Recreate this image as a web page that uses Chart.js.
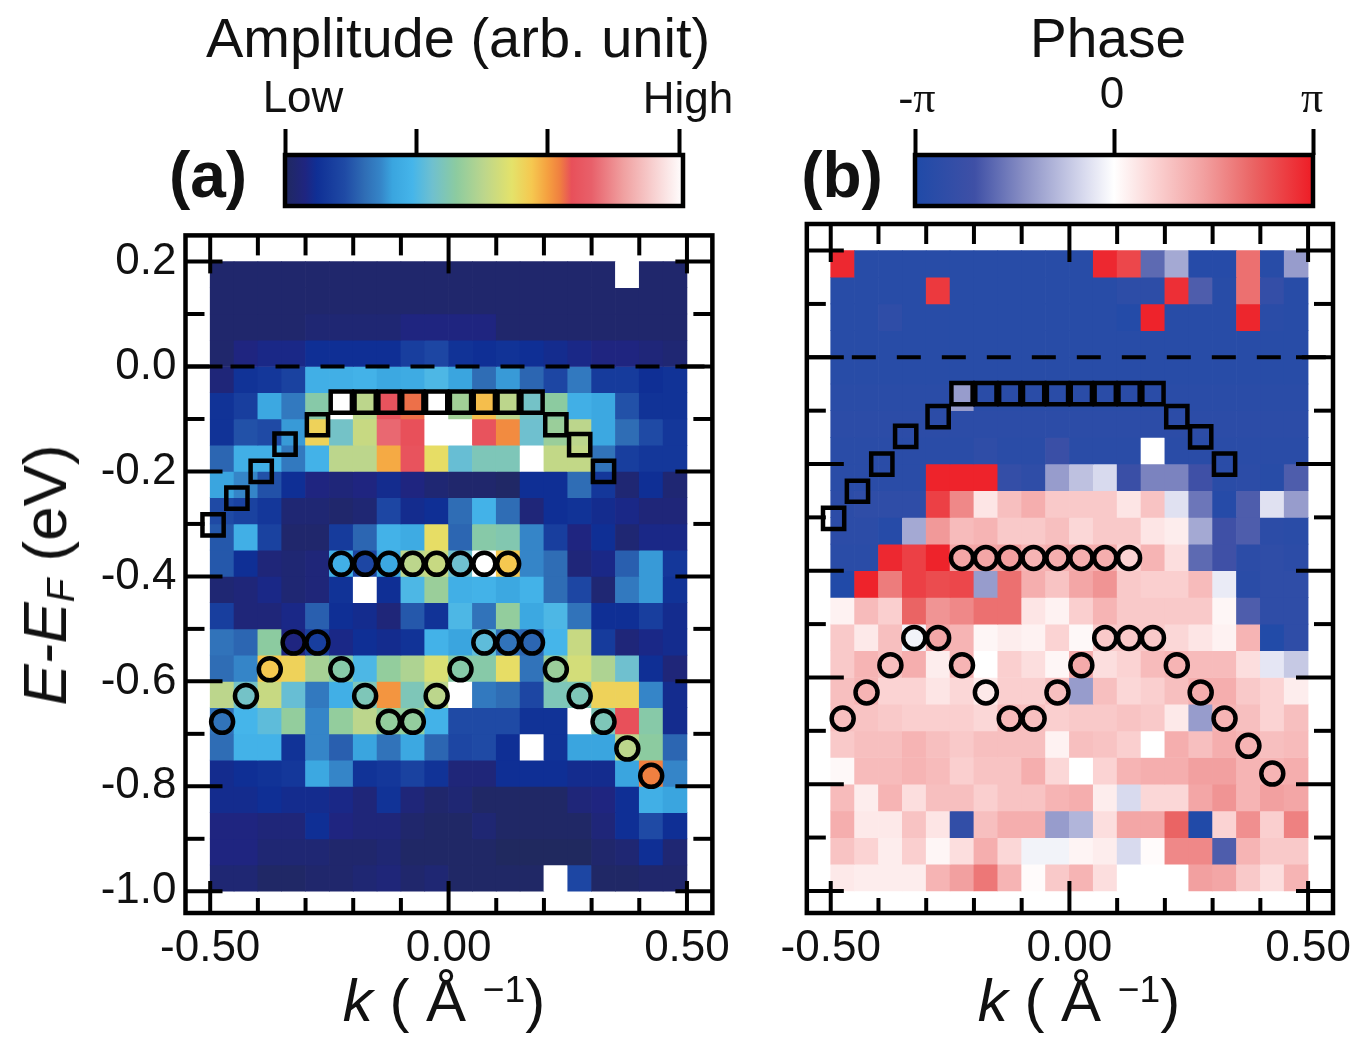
<!DOCTYPE html>
<html>
<head>
<meta charset="utf-8">
<script src="https://cdn.jsdelivr.net/npm/chart.js@4"></script>
<style>
html,body{margin:0;padding:0;background:#fff;width:1369px;height:1038px;overflow:hidden;font-family:"Liberation Sans",Arial,sans-serif;color:#111}
canvas{position:absolute;display:block}
.t{position:absolute;white-space:nowrap;transform:translate(-50%,-50%);line-height:1}
.rot{transform:translate(-50%,-50%) rotate(-90deg)}
.i{font-style:italic}
.sub{font-size:.62em;position:relative;top:.22em;font-style:italic}
.sup{font-size:.62em;position:relative;top:-.5em}
</style>
</head>
<body>
<canvas id="cbA" width="430" height="110" style="left:270px;top:110px"></canvas>
<canvas id="cbB" width="430" height="110" style="left:900px;top:110px"></canvas>
<canvas id="panelA" width="700" height="800" style="left:40px;top:200px"></canvas>
<canvas id="panelB" width="599" height="800" style="left:770px;top:200px"></canvas>

<div class="t" style="left:458px;top:38px;font-size:56px">Amplitude (arb. unit)</div>
<div class="t" style="left:1108px;top:38px;font-size:55px">Phase</div>
<div class="t" style="left:303px;top:97px;font-size:44px">Low</div>
<div class="t" style="left:688px;top:98px;font-size:44px">High</div>
<div class="t" style="left:917px;top:98px;font-size:44px;font-family:'Liberation Serif'">-π</div>
<div class="t" style="left:1112px;top:93px;font-size:44px">0</div>
<div class="t" style="left:1312px;top:98px;font-size:44px;font-family:'Liberation Serif'">π</div>
<div class="t" style="left:208px;top:175px;font-size:64px;font-weight:bold">(a)</div>
<div class="t" style="left:842px;top:175px;font-size:64px;font-weight:bold">(b)</div>
<div class="t rot" style="left:45px;top:575px;font-size:62px"><span class="i">E-E</span><span class="sub">F</span> (eV)</div>
<div class="t" style="left:444px;top:1001px;font-size:60px"><span class="i">k</span> ( Å <span class="sup">−1</span>)</div>
<div class="t" style="left:1079px;top:1001px;font-size:60px"><span class="i">k</span> ( Å <span class="sup">−1</span>)</div>

<script>
// ---------- axes ----------
const kCenters = [-0.475,-0.425,-0.375,-0.325,-0.275,-0.225,-0.175,-0.125,-0.075,-0.025,0.025,0.075,0.125,0.175,0.225,0.275,0.325,0.375,0.425,0.475];
const energyTops = [0.20,0.15,0.10,0.05,0.00,-0.05,-0.10,-0.15,-0.20,-0.25,-0.30,-0.35,-0.40,-0.45,-0.50,-0.55,-0.60,-0.65,-0.70,-0.75,-0.80,-0.85,-0.90,-0.95];
const energyStep = 0.05;
const kTickValues = [-0.5,0,0.5];
const kTickLabels = ['-0.50','0.00','0.50'];
const kMinorTicks = [-0.4,-0.3,-0.2,-0.1,0.1,0.2,0.3,0.4];
const eTickValues = [0.2,0,-0.2,-0.4,-0.6,-0.8,-1.0];
const eTickLabels = ['0.2','0.0','-0.2','-0.4','-0.6','-0.8','-1.0'];
const eMinorTicks = [0.1,-0.1,-0.3,-0.5,-0.7,-0.9];

// ---------- amplitude map, 0 (low) .. 100 (high), row by row from top ----------
const amplitudeRows = [
[2,2,2,2,2,2,2,2,2,2,2,2,2,2,2,2,2,100,2,2],
[2,2,2,2,2,2,2,2,2,2,2,2,2,2,2,2,2,2,2,2],
[2,2,2,2,3,3,3,3,5,5,5,5,2,2,2,2,2,2,2,2],
[2,5,6,6,8,8,8,8,12,14,9,8,9,8,7,6,5,5,4,3],
[4,9,10,13,30,30,31,28,29,33,27,20,26,19,14,22,11,11,8,9],
[9,12,28,22,42,100,50,73,70,100,46,63,50,38,43,30,28,16,9,9],
[9,16,15,26,60,38,52,78,72,100,100,73,68,37,45,50,28,20,15,10],
[19,30,30,22,31,50,50,65,73,58,36,40,40,100,51,51,21,12,10,10],
[27,24,16,8,5,4,5,7,5,3,2,2,1,8,8,20,10,3,8,3],
[15,13,10,3,3,2,3,14,7,8,20,31,20,4,8,9,7,6,4,4],
[17,30,13,2,2,11,19,31,29,58,19,42,41,24,12,5,8,3,6,6],
[17,8,4,3,4,30,14,28,50,52,37,100,62,24,20,4,6,18,26,10],
[3,4,6,3,4,9,100,8,33,45,30,31,28,31,20,14,3,22,26,9],
[12,4,4,6,18,8,7,4,17,9,33,21,44,28,33,21,8,8,12,7],
[21,19,43,5,12,6,8,7,9,31,27,35,21,19,32,52,11,4,6,7],
[20,24,62,60,47,42,33,44,48,55,42,42,58,21,45,54,48,37,8,4],
[50,38,52,36,22,30,40,67,40,50,100,22,20,14,40,40,60,60,24,7],
[21,32,35,44,24,44,50,44,44,31,15,15,15,9,9,100,40,72,42,7],
[20,31,31,9,24,18,27,21,28,19,14,15,8,100,9,27,27,50,43,19],
[7,8,9,10,28,24,9,10,13,9,4,4,8,8,8,7,7,27,69,24],
[7,7,8,7,7,6,4,9,4,2,3,1,1,1,1,4,5,8,30,27],
[5,5,4,4,8,5,4,4,2,1,1,3,1,1,1,1,4,8,15,8],
[5,5,3,3,3,2,2,3,1,1,1,1,0,0,0,0,2,3,8,3],
[3,3,1,1,2,2,3,4,2,3,1,1,1,1,100,14,1,1,2,2]
];

// ---------- phase map, -100 (-pi) .. 100 (pi), row by row from top ----------
const phaseRows = [
[95,-92,-92,-92,-92,-92,-92,-92,-92,-92,-92,95,82,-60,-35,-93,-93,65,-92,-40],
[-92,-92,-92,-92,88,-92,-92,-92,-92,-92,-92,-92,-87,-87,92,-65,-92,65,-80,-92],
[-92,-92,-85,-92,-92,-92,-92,-92,-92,-92,-92,-92,-95,97,-92,-92,-92,96,-90,-92],
[-92,-92,-92,-92,-92,-92,-92,-92,-92,-92,-92,-92,-92,-92,-92,-92,-92,-92,-92,-92],
[-92,-92,-92,-92,-92,-92,-92,-92,-92,-92,-92,-92,-92,-92,-92,-92,-92,-92,-92,-92],
[-90,-90,-90,-90,-90,-40,-90,-90,-90,-90,-90,-90,-90,-90,-90,-90,-90,-90,-90,-90],
[-88,-88,-88,-88,-88,-88,-88,-88,-88,-88,-88,-88,-88,-88,-88,-88,-88,-88,-88,-88],
[-90,-90,-90,-90,-90,-90,-85,-90,-90,-75,-90,-90,-90,0,-90,-90,-90,-90,-90,-90],
[-90,-90,-90,-90,97,97,97,-80,-85,-40,-25,-15,-75,-50,-50,-70,-90,-88,-92,-65],
[-88,-85,-85,-85,85,55,12,30,38,25,25,25,12,28,-12,-55,-93,-65,-12,-40],
[-88,-88,-93,-35,48,32,35,25,25,30,18,25,25,12,8,-35,-70,-65,-88,-90],
[-90,-90,95,85,97,42,42,45,35,38,38,38,20,35,15,-60,-70,-88,-85,-88],
[-98,97,60,85,80,82,-40,65,38,28,42,50,25,22,22,32,-8,-90,-85,-85],
[6,32,22,70,50,55,65,65,12,6,22,35,25,25,25,25,4,-65,-85,-85],
[25,10,30,-5,42,35,4,8,6,20,3,25,25,25,18,12,6,35,-97,-85],
[25,35,30,38,8,35,0,22,15,4,40,15,20,32,35,32,32,15,-10,-22],
[30,35,20,20,12,18,10,22,22,30,-40,30,18,22,30,38,38,25,20,8],
[30,28,25,22,22,22,18,32,30,22,25,25,28,25,10,-40,35,30,20,30],
[25,30,30,35,30,25,30,30,30,6,30,28,22,0,38,30,38,35,30,32],
[3,32,32,35,32,22,28,28,38,18,0,20,35,38,38,45,45,35,35,38],
[32,8,35,15,30,30,22,28,28,35,38,8,-15,18,18,42,50,35,45,42],
[38,10,10,28,12,-82,30,38,38,-40,-30,15,42,42,70,-98,20,52,22,58],
[28,20,8,22,4,15,38,18,-5,-5,5,8,-15,2,55,55,-65,35,25,25],
[10,8,8,8,35,45,62,35,2,25,35,15,0,0,0,45,42,25,15,35]
];

// ---------- band markers ----------
const squareK = [-0.494,-0.444,-0.393,-0.343,-0.275,-0.225,-0.175,-0.125,-0.075,-0.025,0.025,0.075,0.125,0.175,0.225,0.275,0.325];
const squareE = [-0.302,-0.251,-0.200,-0.148,-0.111,-0.068,-0.068,-0.068,-0.068,-0.068,-0.068,-0.068,-0.068,-0.068,-0.111,-0.149,-0.200];
const circleUpperK = [-0.225,-0.175,-0.125,-0.075,-0.025,0.025,0.075,0.125];
const circleUpperE = [-0.376,-0.376,-0.376,-0.376,-0.376,-0.376,-0.376,-0.376];
const circleLowerK = [-0.475,-0.425,-0.375,-0.325,-0.275,-0.225,-0.175,-0.125,-0.075,-0.025,0.025,0.075,0.125,0.175,0.225,0.275,0.325,0.375,0.425];
const circleLowerE = [-0.677,-0.628,-0.577,-0.526,-0.526,-0.577,-0.628,-0.677,-0.677,-0.628,-0.577,-0.526,-0.526,-0.526,-0.577,-0.628,-0.677,-0.728,-0.780];

// ---------- colour scales ----------
const ampStops = [0,5,8,15,20,24,27,32,37,43,50,57,62,66,69,72,77,85,100];
const ampColors = ['#20295f','#1f2580','#0f2f95','#1f4aa5','#2f6db5','#3585c8','#3aa5df','#45b5ea','#6fc0cf','#8ccba0','#bcd68c','#e4e26a','#f5c850','#f5a040','#f08040','#e8505a','#e8606a','#f0a0a0','#ffffff'];
const phaseStops = [-100,-70,-45,-15,0,20,45,70,100];
const phaseColors = ['#1f4aa8','#3f50a6','#8a90c5','#d8daee','#ffffff','#fbd3d3','#f2a0a0','#ea6464','#ee1c25'];
const ampBarTicks = [0,33,66,99];
const phaseBarTicks = [-3.14159,0,3.14159];

function hexRgb(h){return [1,3,5].map(i=>parseInt(h.substr(i,2),16));}
function colorAt(stops,colors,v){
  if(v<=stops[0])return colors[0];
  for(let i=1;i<stops.length;i++){
    if(v<=stops[i]){
      const t=(v-stops[i-1])/(stops[i]-stops[i-1]);
      const a=hexRgb(colors[i-1]),b=hexRgb(colors[i]);
      return 'rgb('+a.map((c,j)=>Math.round(c+(b[j]-c)*t)).join(',')+')';
    }
  }
  return colors[colors.length-1];
}

function makePanel(id,rows,stops,colors,xMin,xMax,yAxisWidth,padLeft,padRight,showY){
  const cellSets = rows.map((row,r)=>({
    type:'bar',order:3,grouped:false,barPercentage:1,categoryPercentage:1,borderWidth:0,
    data:row.map((v,c)=>({x:kCenters[c],y:[energyTops[r]-energyStep,energyTops[r]]})),
    backgroundColor:row.map(v=>colorAt(stops,colors,v))
  }));
  const marker=(xs,ys,style,radius)=>({
    type:'line',order:1,showLine:false,pointStyle:style,pointRadius:radius,pointBorderWidth:4.5,
    pointBorderColor:'#000',pointBackgroundColor:'rgba(0,0,0,0)',clip:false,
    data:xs.map((x,i)=>({x:x,y:ys[i]}))
  });
  const zeroLine={type:'line',order:2,borderColor:'#000',borderWidth:4,borderDash:[24,21],pointRadius:0,
    data:[{x:xMin,y:0},{x:xMax,y:0}]};
  const frame={id:'frame',afterDraw(ch){
    const a=ch.chartArea,x=ch.scales.x,y=ch.scales.y,c=ch.ctx;
    c.save();c.strokeStyle='#000';c.lineCap='butt';c.lineWidth=4;
    const seg=(x1,y1,x2,y2)=>{c.beginPath();c.moveTo(x1,y1);c.lineTo(x2,y2);c.stroke();};
    kTickValues.forEach(v=>{const p=x.getPixelForValue(v);seg(p,a.top,p,a.top+38);seg(p,a.bottom,p,a.bottom-32);});
    kMinorTicks.forEach(v=>{const p=x.getPixelForValue(v);seg(p,a.top,p,a.top+20);seg(p,a.bottom,p,a.bottom-15);});
    eTickValues.forEach(v=>{const p=y.getPixelForValue(v);seg(a.left,p,a.left+37,p);seg(a.right,p,a.right-37,p);});
    eMinorTicks.forEach(v=>{const p=y.getPixelForValue(v);seg(a.left,p,a.left+19,p);seg(a.right,p,a.right-19,p);});
    c.lineWidth=4.5;c.strokeRect(a.left,a.top,a.width,a.height);
    c.restore();
  }};
  return new Chart(document.getElementById(id),{
    type:'bar',
    data:{datasets:cellSets.concat([zeroLine,marker(squareK,squareE,'rect',15),marker(circleUpperK,circleUpperE,'circle',11),marker(circleLowerK,circleLowerE,'circle',11)])},
    options:{
      responsive:false,animation:false,
      layout:{padding:{left:padLeft,right:padRight,top:24,bottom:7}},
      plugins:{legend:{display:false},tooltip:{enabled:false},title:{display:false}},
      scales:{
        x:{type:'linear',offset:false,min:xMin,max:xMax,
          grid:{display:false,drawTicks:false},border:{display:false},
          afterBuildTicks:s=>{s.ticks=kTickValues.map(v=>({value:v}));},
          afterFit:s=>{s.height=80;},
          ticks:{autoSkip:false,maxRotation:0,padding:9,color:'#111',font:{family:'Liberation Sans',size:44},callback:(v,i)=>kTickLabels[i]}},
        y:{type:'linear',min:-1.0414,max:0.2498,
          grid:{display:false,drawTicks:false},border:{display:false},
          afterBuildTicks:s=>{s.ticks=eTickValues.map(v=>({value:v}));},
          afterFit:s=>{s.width=yAxisWidth;},
          ticks:{display:showY,autoSkip:false,padding:9,color:'#111',font:{family:'Liberation Sans',size:44},callback:(v,i)=>eTickLabels[i]}}
      }
    },
    plugins:[frame]
  });
}

function makeBar(id,stops,colors,tickVals,lo,hi,padL,padR){
  const frame={id:'cbframe',afterDraw(ch){const a=ch.chartArea,c=ch.ctx;c.save();c.strokeStyle='#000';c.lineWidth=4.5;c.strokeRect(a.left,a.top,a.width,a.height);c.restore();}};
  return new Chart(document.getElementById(id),{
    type:'bar',
    data:{labels:['scale'],datasets:[{data:[[lo,hi]],barPercentage:1,categoryPercentage:1,borderWidth:0,
      backgroundColor:(ctx)=>{
        const a=ctx.chart.chartArea; if(!a)return '#888';
        const g=ctx.chart.ctx.createLinearGradient(a.left,0,a.right,0);
        const s0=stops[0],sN=stops[stops.length-1];
        stops.forEach((s,i)=>g.addColorStop((s-s0)/(sN-s0),colors[i]));
        return g;
      }}]},
    options:{
      indexAxis:'y',responsive:false,animation:false,
      layout:{padding:{left:padL,right:padR,top:0,bottom:14}},
      plugins:{legend:{display:false},tooltip:{enabled:false}},
      scales:{
        x:{type:'linear',position:'top',min:lo,max:hi,
          grid:{drawOnChartArea:false,drawTicks:true,tickLength:26,tickWidth:4,tickColor:'#000',offset:false},
          border:{display:false},
          afterBuildTicks:s=>{s.ticks=tickVals.map(v=>({value:v}));},
          afterFit:s=>{s.height=45;},
          ticks:{display:false}},
        y:{display:false}
      }
    },
    plugins:[frame]
  });
}

makePanel('panelA',amplitudeRows,ampStops,ampColors,-0.5518,0.5533,145.5,0,25.5,true);
makePanel('panelB',phaseRows,phaseStops,phaseColors,-0.5501,0.5522,35,0,36,false);
makeBar('cbA',ampStops,ampColors,ampBarTicks,0,100,15,17);
makeBar('cbB',phaseStops,phaseColors,phaseBarTicks,-3.14159,3.14159,15,17);
</script>
</body>
</html>
